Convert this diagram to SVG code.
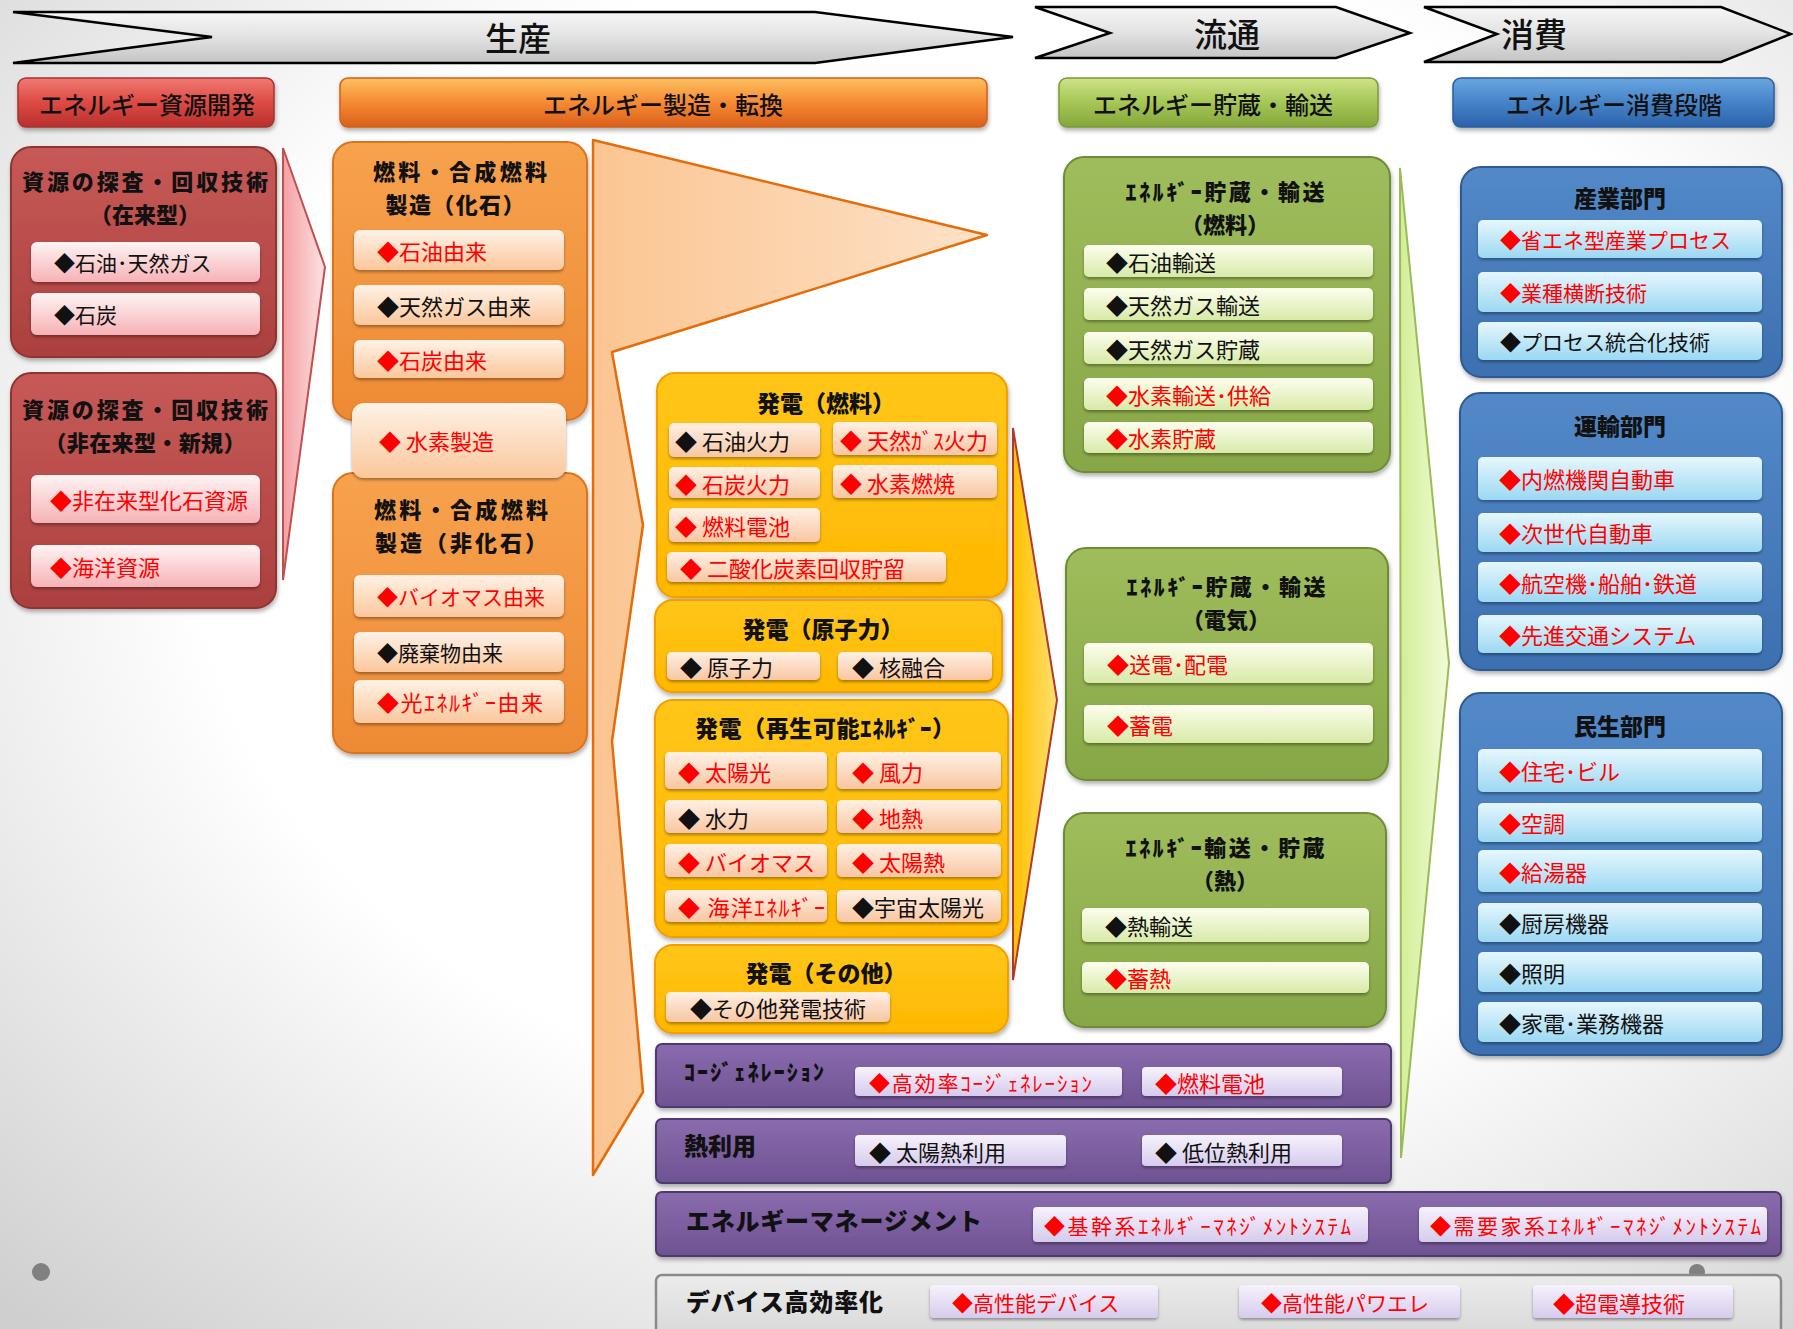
<svg xmlns="http://www.w3.org/2000/svg" width="1793" height="1329" viewBox="0 0 1793 1329">
<defs>
<radialGradient id="bg" cx="0.55" cy="0.4" r="0.8">
<stop offset="0.55" stop-color="#ffffff"/><stop offset="1" stop-color="#cfcfcf"/>
</radialGradient>
<linearGradient id="gChev" x1="0" y1="0" x2="0" y2="1"><stop offset="0" stop-color="#f6f6f6"/><stop offset="0.5" stop-color="#e2e2e2"/><stop offset="1" stop-color="#c4c4c4"/></linearGradient>
<linearGradient id="gHR" x1="0" y1="0" x2="0" y2="1"><stop offset="0" stop-color="#f07a72"/><stop offset="0.5" stop-color="#dd4a44"/><stop offset="1" stop-color="#b8302c"/></linearGradient>
<linearGradient id="gHO" x1="0" y1="0" x2="0" y2="1"><stop offset="0" stop-color="#fcc060"/><stop offset="0.5" stop-color="#f68a34"/><stop offset="1" stop-color="#d9601c"/></linearGradient>
<linearGradient id="gHG" x1="0" y1="0" x2="0" y2="1"><stop offset="0" stop-color="#cde388"/><stop offset="0.5" stop-color="#a6c656"/><stop offset="1" stop-color="#84a63a"/></linearGradient>
<linearGradient id="gHB" x1="0" y1="0" x2="0" y2="1"><stop offset="0" stop-color="#6aa6e0"/><stop offset="0.5" stop-color="#4583c8"/><stop offset="1" stop-color="#2c62aa"/></linearGradient>
<linearGradient id="gBR" x1="0" y1="0" x2="0" y2="1"><stop offset="0" stop-color="#c75a57"/><stop offset="1" stop-color="#ab403e"/></linearGradient>
<linearGradient id="gBO" x1="0" y1="0" x2="0" y2="1"><stop offset="0" stop-color="#f7a24e"/><stop offset="1" stop-color="#ee8a34"/></linearGradient>
<linearGradient id="gBY" x1="0" y1="0" x2="0" y2="1"><stop offset="0" stop-color="#ffc61a"/><stop offset="1" stop-color="#ffb800"/></linearGradient>
<linearGradient id="gBG" x1="0" y1="0" x2="0" y2="1"><stop offset="0" stop-color="#9fbd5c"/><stop offset="1" stop-color="#87a646"/></linearGradient>
<linearGradient id="gBB" x1="0" y1="0" x2="0" y2="1"><stop offset="0" stop-color="#5389c8"/><stop offset="1" stop-color="#3d70b0"/></linearGradient>
<linearGradient id="gBP" x1="0" y1="0" x2="0" y2="1"><stop offset="0" stop-color="#8a6cae"/><stop offset="1" stop-color="#6f5292"/></linearGradient>
<linearGradient id="gBGr" x1="0" y1="0" x2="0" y2="1"><stop offset="0" stop-color="#ececec"/><stop offset="1" stop-color="#d2d2d2"/></linearGradient>
<linearGradient id="gPR" x1="0" y1="0" x2="0" y2="1"><stop offset="0" stop-color="#fff4f4"/><stop offset="1" stop-color="#f6b2b6"/></linearGradient>
<linearGradient id="gPO" x1="0" y1="0" x2="0" y2="1"><stop offset="0" stop-color="#fff2e6"/><stop offset="1" stop-color="#fbc79c"/></linearGradient>
<linearGradient id="gPY" x1="0" y1="0" x2="0" y2="1"><stop offset="0" stop-color="#fff0e4"/><stop offset="1" stop-color="#f8c6a2"/></linearGradient>
<linearGradient id="gPG" x1="0" y1="0" x2="0" y2="1"><stop offset="0" stop-color="#fcfeee"/><stop offset="1" stop-color="#d8eaa8"/></linearGradient>
<linearGradient id="gPB" x1="0" y1="0" x2="0" y2="1"><stop offset="0" stop-color="#e6f7fe"/><stop offset="1" stop-color="#9cd8f2"/></linearGradient>
<linearGradient id="gPP" x1="0" y1="0" x2="0" y2="1"><stop offset="0" stop-color="#f6f2fc"/><stop offset="1" stop-color="#d6cbed"/></linearGradient>
<linearGradient id="gAR" x1="0" y1="0" x2="1" y2="0"><stop offset="0" stop-color="#f4a0a4"/><stop offset="1" stop-color="#fde2e2"/></linearGradient>
<linearGradient id="gAO" x1="0" y1="0" x2="1" y2="0"><stop offset="0" stop-color="#fbc592"/><stop offset="1" stop-color="#fde2c8"/></linearGradient>
<linearGradient id="gAY" x1="0" y1="0" x2="1" y2="0"><stop offset="0" stop-color="#ffc000"/><stop offset="1" stop-color="#ffe070"/></linearGradient>
<linearGradient id="gAG" x1="0" y1="0" x2="1" y2="0"><stop offset="0" stop-color="#d2ee96"/><stop offset="1" stop-color="#f2fbd8"/></linearGradient>
<filter id="sh" x="-10%" y="-20%" width="120%" height="150%"><feDropShadow dx="0" dy="2" stdDeviation="1.5" flood-color="#000" flood-opacity="0.35"/></filter>
<filter id="shb" x="-10%" y="-10%" width="120%" height="125%"><feDropShadow dx="1" dy="3" stdDeviation="2" flood-color="#000" flood-opacity="0.3"/></filter>
</defs>
<style>
text{font-family:"Noto Sans CJK JP","Noto Sans CJK SC",sans-serif;dominant-baseline:central;}
.chev{fill:url(#gChev);stroke:#000;stroke-width:2.5;stroke-linejoin:miter;}
.ct{font-size:33px;font-weight:500;text-anchor:middle;fill:#111;}
.hd{font-size:24px;font-weight:500;text-anchor:middle;fill:#111;}
.tt{font-size:23px;font-weight:900;text-anchor:middle;fill:#111;}
.t2{font-size:22px;font-weight:900;text-anchor:middle;fill:#111;}
.bl{font-size:23px;font-weight:900;fill:#111;}
.it{font-size:21px;fill:#111;}
.r{fill:#ff0000;}
.bR{fill:url(#gBR);stroke:#8e3533;stroke-width:2;filter:url(#shb);}
.bO{fill:url(#gBO);stroke:#d9741f;stroke-width:2;filter:url(#shb);}
.bY{fill:url(#gBY);stroke:#f59e00;stroke-width:2;filter:url(#shb);}
.bG{fill:url(#gBG);stroke:#6e8b35;stroke-width:2;filter:url(#shb);}
.bB{fill:url(#gBB);stroke:#2e5a92;stroke-width:2;filter:url(#shb);}
.bP{fill:url(#gBP);stroke:#4e3a6e;stroke-width:2;filter:url(#shb);}
.bGr{fill:url(#gBGr);stroke:#8a8a8a;stroke-width:2.5;}
.pR{fill:url(#gPR);filter:url(#sh);}
.pO{fill:url(#gPO);filter:url(#sh);}
.pY{fill:url(#gPY);filter:url(#sh);}
.pG{fill:url(#gPG);filter:url(#sh);}
.pB{fill:url(#gPB);filter:url(#sh);}
.pP{fill:url(#gPP);filter:url(#sh);}
</style>
<rect x="0" y="0" width="1793" height="1329" fill="url(#bg)"/>

<g id="phase-seisan"><polygon class="chev" points="13,12 815,12 1013,37 815,63 13,63 212,37"/><text class="ct" x="518" y="37">生産</text></g>
<g id="phase-ryutsu"><polygon class="chev" points="1035,7 1336,7 1410,33 1336,58 1035,58 1110,33"/><text class="ct" x="1227" y="33">流通</text></g>
<g id="phase-shohi"><polygon class="chev" points="1424,7 1721,7 1791,34 1721,62 1424,62 1497,34"/><text class="ct" x="1534" y="33">消費</text></g>

<g id="hdr-shigen"><rect x="18" y="78" width="256" height="49" rx="8" fill="url(#gHR)" stroke="#a83030" stroke-width="1.5" filter="url(#shb)"/><text class="hd" x="147" y="103">エネルギー資源開発</text></g>
<g id="hdr-seizo"><rect x="340" y="78" width="647" height="49" rx="8" fill="url(#gHO)" stroke="#d06018" stroke-width="1.5" filter="url(#shb)"/><text class="hd" x="663" y="103">エネルギー製造・転換</text></g>
<g id="hdr-chozo"><rect x="1059" y="78" width="319" height="49" rx="8" fill="url(#gHG)" stroke="#7c9a34" stroke-width="1.5" filter="url(#shb)"/><text class="hd" x="1213" y="103">エネルギー貯蔵・輸送</text></g>
<g id="hdr-shohi"><rect x="1453" y="78" width="321" height="49" rx="8" fill="url(#gHB)" stroke="#2a5ea0" stroke-width="1.5" filter="url(#shb)"/><text class="hd" x="1614" y="103">エネルギー消費段階</text></g>

<g id="connectors">
<polygon points="283,148 325,267 283,580" fill="url(#gAR)" stroke="#c0504d" stroke-width="2"/>
<polygon points="593,140 987,235 612,352 643,525 612,741 643,1092 593,1175" fill="url(#gAO)" stroke="#e46c0a" stroke-width="2.5" stroke-linejoin="round"/>
<polygon points="1013,428 1057,700 1013,980" fill="url(#gAY)" stroke="#b03a30" stroke-width="2"/>
<polygon points="1400,168 1449,663 1401,1158" fill="url(#gAG)" stroke="#9bbb59" stroke-width="2"/>
</g>

<g id="shigen-zairai">
<rect class="bR" x="11" y="147" width="265" height="210" rx="20"/>
<text class="t2"><tspan x="145" y="180" textLength="246">資源の探査・回収技術</tspan><tspan x="145" y="213">（在来型）</tspan></text>
<rect class="pR" x="31" y="242" width="229" height="40" rx="6"/><text class="it" x="54" y="262">◆石油･天然ガス</text>
<rect class="pR" x="31" y="293" width="229" height="42" rx="6"/><text class="it" x="54" y="314">◆石炭</text>
</g>
<g id="shigen-hizairai">
<rect class="bR" x="11" y="373" width="265" height="235" rx="20"/>
<text class="t2"><tspan x="145" y="408" textLength="246">資源の探査・回収技術</tspan><tspan x="145" y="441" textLength="201">（非在来型・新規）</tspan></text>
<rect class="pR" x="31" y="475" width="229" height="48" rx="6"/><text class="it r" x="50" y="499" style="font-size:22px">◆非在来型化石資源</text>
<rect class="pR" x="31" y="545" width="229" height="42" rx="6"/><text class="it r" x="50" y="566" style="font-size:22px">◆海洋資源</text>
</g>

<g id="nenryo-kaseki">
<rect class="bO" x="333" y="142" width="254" height="278" rx="20"/>
<text class="t2"><tspan x="460" y="170" textLength="174">燃料・合成燃料</tspan><tspan x="455" y="203" textLength="139">製造（化石）</tspan></text>
<rect class="pO" x="354" y="230" width="210" height="40" rx="6"/><text class="it r" x="377" y="250" style="font-size:22px">◆石油由来</text>
<rect class="pO" x="354" y="285" width="210" height="40" rx="6"/><text class="it" x="377" y="305" style="font-size:22px">◆天然ガス由来</text>
<rect class="pO" x="354" y="340" width="210" height="38" rx="6"/><text class="it r" x="377" y="359" style="font-size:22px">◆石炭由来</text>
</g>
<g id="nenryo-hikaseki">
<rect class="bO" x="333" y="473" width="254" height="280" rx="20"/>
<text class="t2"><tspan x="461" y="508" textLength="174">燃料・合成燃料</tspan><tspan x="461" y="541" textLength="172">製造（非化石）</tspan></text>
<rect class="pO" x="354" y="575" width="210" height="42" rx="6"/><text class="it r" x="377" y="596">◆バイオマス由来</text>
<rect class="pO" x="354" y="632" width="210" height="40" rx="6"/><text class="it" x="377" y="652">◆廃棄物由来</text>
<rect class="pO" x="354" y="680" width="210" height="43" rx="6"/><text class="it r" x="377" y="701" style="font-size:22px" textLength="166">◆光ｴﾈﾙｷﾞｰ由来</text>
</g>
<g id="suiso-seizo">
<rect class="pO" x="352" y="403" width="214" height="75" rx="12"/><text class="it r" x="379" y="440" style="font-size:22px">◆ 水素製造</text>
</g>

<g id="hatsuden-nenryo">
<rect class="bY" x="657" y="373" width="350" height="224" rx="18"/>
<text class="tt" x="826" y="402">発電（燃料）</text>
<rect class="pY" x="669" y="423" width="151" height="34" rx="5"/><text class="it" x="675" y="440" style="font-size:22px">◆ 石油火力</text>
<rect class="pY" x="833" y="422" width="164" height="33" rx="5"/><text class="it r" x="840" y="439" style="font-size:22px">◆ 天然ｶﾞｽ火力</text>
<rect class="pY" x="669" y="467" width="151" height="31" rx="5"/><text class="it r" x="675" y="483" style="font-size:22px">◆ 石炭火力</text>
<rect class="pY" x="833" y="465" width="164" height="33" rx="5"/><text class="it r" x="840" y="482" style="font-size:22px">◆ 水素燃焼</text>
<rect class="pY" x="669" y="508" width="151" height="34" rx="5"/><text class="it r" x="675" y="525" style="font-size:22px">◆ 燃料電池</text>
<rect class="pY" x="667" y="552" width="279" height="30" rx="5"/><text class="it r" x="680" y="567" style="font-size:22px">◆ 二酸化炭素回収貯留</text>
</g>
<g id="hatsuden-genshiryoku">
<rect class="bY" x="655" y="600" width="347" height="92" rx="18"/>
<text class="tt" x="823" y="628">発電（原子力）</text>
<rect class="pY" x="667" y="652" width="153" height="28" rx="5"/><text class="it" x="680" y="666" style="font-size:22px">◆ 原子力</text>
<rect class="pY" x="838" y="652" width="154" height="28" rx="5"/><text class="it" x="852" y="666" style="font-size:22px">◆ 核融合</text>
</g>
<g id="hatsuden-saiene">
<rect class="bY" x="655" y="700" width="353" height="237" rx="18"/>
<text class="tt" x="825" y="727" textLength="260">発電（再生可能ｴﾈﾙｷﾞｰ）</text>
<rect class="pY" x="665" y="752" width="162" height="37" rx="5"/><text class="it r" x="678" y="771" style="font-size:22px">◆ 太陽光</text>
<rect class="pY" x="837" y="752" width="164" height="37" rx="5"/><text class="it r" x="852" y="771" style="font-size:22px">◆ 風力</text>
<rect class="pY" x="665" y="800" width="162" height="33" rx="5"/><text class="it" x="678" y="817" style="font-size:22px">◆ 水力</text>
<rect class="pY" x="837" y="800" width="164" height="33" rx="5"/><text class="it r" x="852" y="817" style="font-size:22px">◆ 地熱</text>
<rect class="pY" x="665" y="844" width="162" height="33" rx="5"/><text class="it r" x="678" y="861" style="font-size:22px">◆ バイオマス</text>
<rect class="pY" x="837" y="844" width="164" height="33" rx="5"/><text class="it r" x="852" y="861" style="font-size:22px">◆ 太陽熱</text>
<rect class="pY" x="665" y="890" width="162" height="32" rx="5"/><text class="it r" x="678" y="906" style="font-size:22px" textLength="147">◆ 海洋ｴﾈﾙｷﾞｰ</text>
<rect class="pY" x="837" y="890" width="164" height="32" rx="5"/><text class="it" x="852" y="906" style="font-size:22px">◆宇宙太陽光</text>
</g>
<g id="hatsuden-sonota">
<rect class="bY" x="655" y="945" width="353" height="88" rx="18"/>
<text class="tt" x="826" y="972">発電（その他）</text>
<rect class="pY" x="666" y="992" width="224" height="30" rx="5"/><text class="it" x="690" y="1007" style="font-size:22px">◆その他発電技術</text>
</g>

<g id="chozo-nenryo">
<rect class="bG" x="1064" y="157" width="326" height="315" rx="20"/>
<text class="t2"><tspan x="1225" y="190" textLength="199">ｴﾈﾙｷﾞｰ貯蔵・輸送</tspan><tspan x="1225" y="223">（燃料）</tspan></text>
<rect class="pG" x="1084" y="245" width="289" height="32" rx="5"/><text class="it" x="1106" y="261" style="font-size:22px">◆石油輸送</text>
<rect class="pG" x="1084" y="288" width="289" height="32" rx="5"/><text class="it" x="1106" y="304" style="font-size:22px">◆天然ガス輸送</text>
<rect class="pG" x="1084" y="332" width="289" height="32" rx="5"/><text class="it" x="1106" y="348" style="font-size:22px">◆天然ガス貯蔵</text>
<rect class="pG" x="1084" y="378" width="289" height="32" rx="5"/><text class="it r" x="1106" y="394" style="font-size:22px">◆水素輸送･供給</text>
<rect class="pG" x="1084" y="422" width="289" height="31" rx="5"/><text class="it r" x="1106" y="437" style="font-size:22px">◆水素貯蔵</text>
</g>
<g id="chozo-denki">
<rect class="bG" x="1066" y="548" width="322" height="232" rx="20"/>
<text class="t2"><tspan x="1226" y="585" textLength="199">ｴﾈﾙｷﾞｰ貯蔵・輸送</tspan><tspan x="1226" y="618">（電気）</tspan></text>
<rect class="pG" x="1084" y="643" width="289" height="40" rx="5"/><text class="it r" x="1107" y="663" style="font-size:22px">◆送電･配電</text>
<rect class="pG" x="1084" y="705" width="289" height="38" rx="5"/><text class="it r" x="1107" y="724" style="font-size:22px">◆蓄電</text>
</g>
<g id="chozo-netsu">
<rect class="bG" x="1064" y="813" width="322" height="214" rx="20"/>
<text class="t2"><tspan x="1225" y="846" textLength="199">ｴﾈﾙｷﾞｰ輸送・貯蔵</tspan><tspan x="1225" y="879">（熱）</tspan></text>
<rect class="pG" x="1082" y="908" width="287" height="34" rx="5"/><text class="it" x="1105" y="925" style="font-size:22px">◆熱輸送</text>
<rect class="pG" x="1082" y="962" width="287" height="31" rx="5"/><text class="it r" x="1105" y="977" style="font-size:22px">◆蓄熱</text>
</g>

<g id="sangyo">
<rect class="bB" x="1461" y="167" width="321" height="210" rx="20"/>
<text class="tt" x="1620" y="197">産業部門</text>
<rect class="pB" x="1478" y="220" width="284" height="38" rx="5"/><text class="it r" x="1500" y="239">◆省エネ型産業プロセス</text>
<rect class="pB" x="1478" y="272" width="284" height="40" rx="5"/><text class="it r" x="1500" y="292">◆業種横断技術</text>
<rect class="pB" x="1478" y="322" width="284" height="38" rx="5"/><text class="it" x="1500" y="341">◆プロセス統合化技術</text>
</g>
<g id="unyu">
<rect class="bB" x="1460" y="393" width="322" height="277" rx="20"/>
<text class="tt" x="1620" y="425">運輸部門</text>
<rect class="pB" x="1478" y="457" width="284" height="43" rx="5"/><text class="it r" x="1499" y="478" style="font-size:22px">◆内燃機関自動車</text>
<rect class="pB" x="1478" y="513" width="284" height="39" rx="5"/><text class="it r" x="1499" y="532" style="font-size:22px">◆次世代自動車</text>
<rect class="pB" x="1478" y="562" width="284" height="40" rx="5"/><text class="it r" x="1499" y="582" style="font-size:22px">◆航空機･船舶･鉄道</text>
<rect class="pB" x="1478" y="615" width="284" height="38" rx="5"/><text class="it r" x="1499" y="634" style="font-size:22px">◆先進交通システム</text>
</g>
<g id="minsei">
<rect class="bB" x="1460" y="693" width="322" height="362" rx="20"/>
<text class="tt" x="1620" y="725">民生部門</text>
<rect class="pB" x="1478" y="749" width="284" height="43" rx="5"/><text class="it r" x="1499" y="770" style="font-size:22px">◆住宅･ビル</text>
<rect class="pB" x="1478" y="803" width="284" height="39" rx="5"/><text class="it r" x="1499" y="822" style="font-size:22px">◆空調</text>
<rect class="pB" x="1478" y="850" width="284" height="42" rx="5"/><text class="it r" x="1499" y="871" style="font-size:22px">◆給湯器</text>
<rect class="pB" x="1478" y="903" width="284" height="39" rx="5"/><text class="it" x="1499" y="922" style="font-size:22px">◆厨房機器</text>
<rect class="pB" x="1478" y="952" width="284" height="40" rx="5"/><text class="it" x="1499" y="972" style="font-size:22px">◆照明</text>
<rect class="pB" x="1478" y="1002" width="284" height="40" rx="5"/><text class="it" x="1499" y="1022" style="font-size:22px">◆家電･業務機器</text>
</g>

<g id="cogene">
<rect class="bP" x="656" y="1044" width="735" height="63" rx="6"/>
<text class="bl" x="684" y="1070" style="font-size:22px" textLength="140">ｺｰｼﾞｪﾈﾚｰｼｮﾝ</text>
<rect class="pP" x="855" y="1067" width="267" height="29" rx="4"/><text class="it r" x="869" y="1082" textLength="223">◆高効率ｺｰｼﾞｪﾈﾚｰｼｮﾝ</text>
<rect class="pP" x="1142" y="1067" width="200" height="29" rx="4"/><text class="it r" x="1155" y="1082" style="font-size:22px">◆燃料電池</text>
</g>
<g id="netsuriyo">
<rect class="bP" x="656" y="1119" width="735" height="64" rx="6"/>
<text class="bl" x="684" y="1144" style="font-size:24px">熱利用</text>
<rect class="pP" x="855" y="1135" width="211" height="31" rx="4"/><text class="it" x="869" y="1151" style="font-size:22px">◆ 太陽熱利用</text>
<rect class="pP" x="1142" y="1135" width="200" height="31" rx="4"/><text class="it" x="1155" y="1151" style="font-size:22px">◆ 低位熱利用</text>
</g>
<g id="ems">
<rect class="bP" x="656" y="1192" width="1125" height="64" rx="6"/>
<text class="bl" x="686" y="1219" style="font-size:24px" textLength="296">エネルギーマネージメント</text>
<rect class="pP" x="1033" y="1207" width="335" height="35" rx="4"/><text class="it r" x="1044" y="1225" textLength="307">◆基幹系ｴﾈﾙｷﾞｰﾏﾈｼﾞﾒﾝﾄｼｽﾃﾑ</text>
<rect class="pP" x="1419" y="1207" width="348" height="35" rx="4"/><text class="it r" x="1430" y="1225" textLength="331">◆需要家系ｴﾈﾙｷﾞｰﾏﾈｼﾞﾒﾝﾄｼｽﾃﾑ</text>
</g>
<g id="device">
<circle cx="1697" cy="1272" r="8" fill="#808080"/>
<rect class="bGr" x="656" y="1275" width="1125" height="80" rx="6"/>
<text class="bl" x="686" y="1300" style="font-size:24px" textLength="197">デバイス高効率化</text>
<rect class="pP" x="930" y="1285" width="228" height="33" rx="4"/><text class="it r" x="952" y="1302">◆高性能デバイス</text>
<rect class="pP" x="1239" y="1285" width="221" height="33" rx="4"/><text class="it r" x="1261" y="1302">◆高性能パワエレ</text>
<rect class="pP" x="1533" y="1285" width="200" height="33" rx="4"/><text class="it r" x="1553" y="1302" style="font-size:22px">◆超電導技術</text>
</g>
<circle cx="41" cy="1272" r="9" fill="#808080"/>
</svg>
